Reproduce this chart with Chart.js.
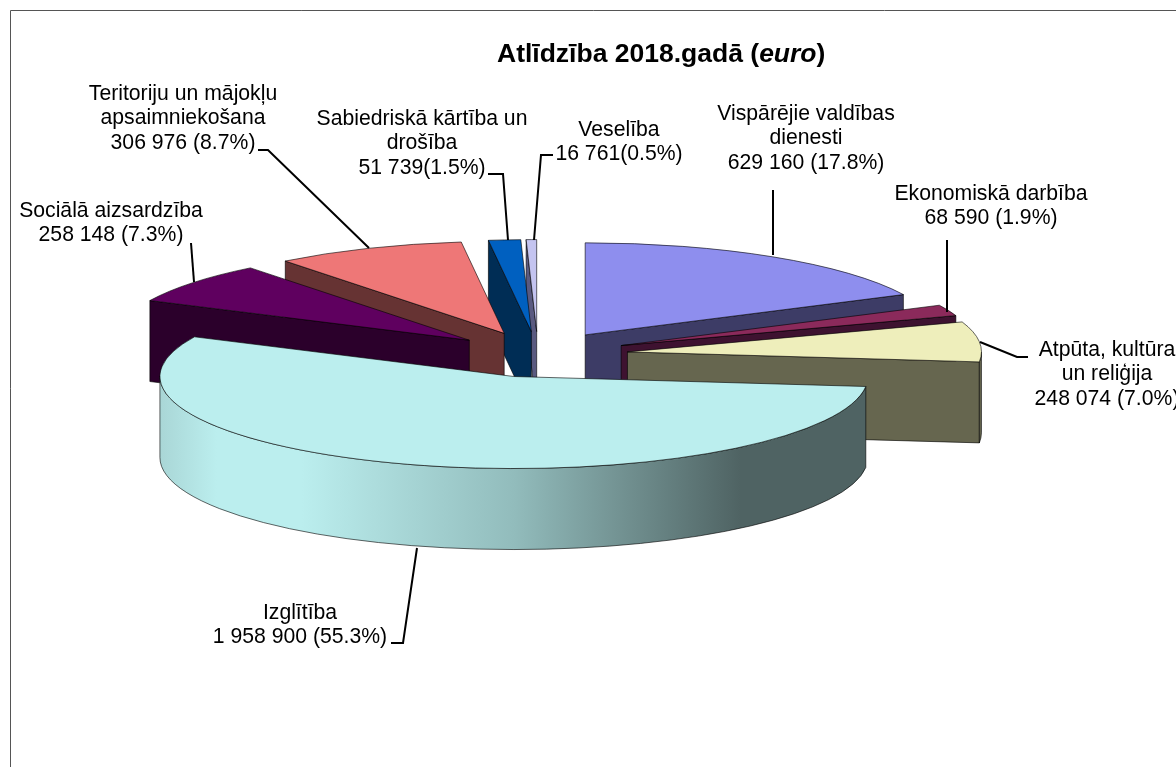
<!DOCTYPE html>
<html>
<head>
<meta charset="utf-8">
<script src="https://cdn.jsdelivr.net/npm/chart.js@4/dist/chart.umd.js"></script>
<style>
  html, body { margin: 0; padding: 0; background: #fff; overflow: hidden; }
  canvas { display: block; }
</style>
</head>
<body>
<canvas id="pieChart" width="1176" height="767"></canvas>
<script>
// Values, clockwise from 12 o'clock
const categories = [
  "Vispārējie valdības dienesti",
  "Ekonomiskā darbība",
  "Atpūta, kultūra un reliģija",
  "Izglītība",
  "Sociālā aizsardzība",
  "Teritoriju un mājokļu apsaimniekošana",
  "Sabiedriskā kārtība un drošība",
  "Veselība",
];
const amounts = [629160, 68590, 248074, 1958900, 258148, 306976, 51739, 16761];
const labelLines = [
  ["Vispārējie valdības", "dienesti", "629 160 (17.8%)"],
  ["Ekonomiskā darbība", "68 590 (1.9%)"],
  ["Atpūta, kultūra", "un reliģija", "248 074 (7.0%)"],
  ["Izglītība", "1 958 900 (55.3%)"],
  ["Sociālā aizsardzība", "258 148 (7.3%)"],
  ["Teritoriju un mājokļu", "apsaimniekošana", "306 976 (8.7%)"],
  ["Sabiedriskā kārtība un", "drošība", "51 739(1.5%)"],
  ["Veselība", "16 761(0.5%)"],
];
const topColors = ["#8E8EEE", "#8B2A5B", "#EEEEBB", "#BBEEEE", "#5F005F", "#EE7777", "#0060C0", "#C4C4F0"];
const wallColors = ["#3D3C66", "#3E1230", "#66664F", "#4F6363", "#2B002B", "#663333", "#002D55", "#5A5A80"];

// Layout of the fake 3D pie
const squash = 0.26;
const explode = [89, 90, 90, 88, 88, 88, 88, 88];
const depth = 81;
const backToFront = [0, 1, 2, 7, 6, 5, 4, 3];

// Label anchors (centre x, first line y) and leader lines
const labelPos = [[806, 114], [991, 194], [1107, 350], [300, 613], [111, 211], [183, 94], [422, 119], [619, 130]];
const leaders = [
  [[773, 190], [773, 255]],
  [[947, 240], [947, 312]],
  [[1028, 357], [1017, 357], [980, 342]],
  [[391, 643], [403, 643], [417, 548]],
  [[191, 243], [194, 282]],
  [[258, 150], [268, 150], [369, 248]],
  [[488, 174], [503, 174], [508, 240]],
  [[553, 155], [541, 155], [534, 240]],
];

function wallFill(ctx, i) {
  if (i !== 3) return wallColors[i];
  // only the big front slice has the shaded rim
  const g = ctx.createLinearGradient(160, 0, 868, 0);
  g.addColorStop(0, "#A9D6D6");
  g.addColorStop(0.08, "#BBEEEE");
  g.addColorStop(0.2, "#BBEEEE");
  g.addColorStop(0.5, "#92BCBC");
  g.addColorStop(0.82, "#4F6363");
  g.addColorStop(1, "#4F6363");
  return g;
}

const pie3d = {
  id: "pie3d",
  beforeDraw(chart) {
    const ctx = chart.ctx;
    ctx.save();
    ctx.strokeStyle = "#555";
    ctx.lineWidth = 1;
    ctx.beginPath();
    ctx.moveTo(10.5, 767);
    ctx.lineTo(10.5, 10.5);
    ctx.lineTo(1176, 10.5);
    ctx.stroke();
    ctx.restore();
  },
  beforeDatasetDraw(chart) {
    const ctx = chart.ctx;
    const arcs = chart.getDatasetMeta(0).data;
    backToFront.forEach(function (i) {
      const arc = arcs[i];
      const mid = (arc.startAngle + arc.endAngle) / 2;
      const R = arc.outerRadius;
      const cx = arc.x + Math.cos(mid) * explode[i];
      const cy = arc.y + Math.sin(mid) * explode[i] * squash;
      const rimX = (a) => cx + Math.cos(a) * R;
      const rimY = (a) => cy + Math.sin(a) * R * squash;

      ctx.save();
      ctx.lineWidth = 1;
      ctx.lineJoin = "round";
      ctx.strokeStyle = "rgba(0,0,0,0.6)";
      ctx.fillStyle = wallFill(ctx, i);

      // cut faces that look towards the viewer
      [[arc.startAngle, Math.cos(arc.startAngle) < 0], [arc.endAngle, Math.cos(arc.endAngle) > 0]].forEach(function (cut) {
        if (!cut[1]) return;
        ctx.beginPath();
        ctx.moveTo(cx, cy);
        ctx.lineTo(rimX(cut[0]), rimY(cut[0]));
        ctx.lineTo(rimX(cut[0]), rimY(cut[0]) + depth);
        ctx.lineTo(cx, cy + depth);
        ctx.closePath();
        ctx.fill();
        ctx.stroke();
      });

      // outer wall, front half only
      const a0 = Math.max(arc.startAngle, 0);
      const a1 = Math.min(arc.endAngle, Math.PI);
      if (a1 > a0) {
        ctx.beginPath();
        ctx.ellipse(cx, cy, R, R * squash, 0, a0, a1);
        ctx.lineTo(rimX(a1), rimY(a1) + depth);
        ctx.ellipse(cx, cy + depth, R, R * squash, 0, a1, a0, true);
        ctx.closePath();
        ctx.fill();
        ctx.stroke();
      }
      ctx.restore();

      // top face is the library's own arc, squashed and moved out
      ctx.save();
      ctx.translate(cx, cy);
      ctx.scale(1, squash);
      ctx.translate(-arc.x, -arc.y);
      arc.draw(ctx);
      ctx.restore();

      ctx.save();
      ctx.lineWidth = 1;
      ctx.strokeStyle = "rgba(0,0,0,0.6)";
      ctx.beginPath();
      ctx.moveTo(cx, cy);
      ctx.lineTo(rimX(arc.startAngle), rimY(arc.startAngle));
      ctx.ellipse(cx, cy, R, R * squash, 0, arc.startAngle, arc.endAngle);
      ctx.closePath();
      ctx.stroke();
      ctx.restore();
    });
    return false;
  },
  afterDraw(chart) {
    const ctx = chart.ctx;
    ctx.save();

    // leader lines
    ctx.strokeStyle = "#000";
    ctx.lineWidth = 2;
    leaders.forEach(function (pts) {
      ctx.beginPath();
      pts.forEach((p, n) => (n ? ctx.lineTo(p[0], p[1]) : ctx.moveTo(p[0], p[1])));
      ctx.stroke();
    });

    // slice labels
    ctx.fillStyle = "#000";
    ctx.font = '21.2px "Liberation Sans"';
    ctx.textAlign = "center";
    ctx.textBaseline = "middle";
    labelLines.forEach(function (lines, i) {
      lines.forEach(function (line, n) {
        ctx.fillText(line, labelPos[i][0], labelPos[i][1] + n * 24.6);
      });
    });

    // title has an italic word, so it goes piece by piece
    ctx.textAlign = "left";
    let x = 497;
    [["Atlīdzība 2018.gadā (", "bold"], ["euro", "italic bold"], [")", "bold"]].forEach(function (part) {
      ctx.font = part[1] + ' 26.5px "Liberation Sans"';
      ctx.fillText(part[0], x, 55);
      x += ctx.measureText(part[0]).width;
    });
    ctx.restore();
  },
};

new Chart(document.getElementById("pieChart"), {
  type: "pie",
  data: {
    labels: categories,
    datasets: [
      {
        data: amounts,
        backgroundColor: topColors,
        borderWidth: 0,
      },
    ],
  },
  options: {
    responsive: false,
    animation: false,
    events: [],
    radius: 354,
    layout: { padding: { right: 100, bottom: 58 } },
    plugins: {
      legend: { display: false },
      tooltip: { enabled: false },
    },
  },
  plugins: [pie3d],
});
</script>
</body>
</html>
